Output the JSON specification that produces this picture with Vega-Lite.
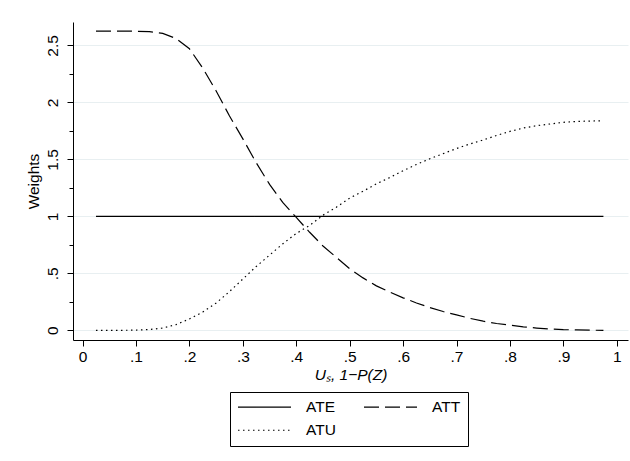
{
  "$schema": "https://vega.github.io/schema/vega-lite/v6.json",
  "width": 555,
  "height": 318,
  "autosize": {"type": "none"},
  "padding": {"left": 73, "top": 22, "right": 2, "bottom": 121},
  "background": "white",
  "config": {"view": {"stroke": null}, "font": "Liberation Sans"},
  "data": {"values": [
    {"u": 0.025, "ATE": 1, "ATT": 2.625, "ATU": 0},
    {"u": 0.05, "ATE": 1, "ATT": 2.625, "ATU": 0},
    {"u": 0.075, "ATE": 1, "ATT": 2.625, "ATU": 0},
    {"u": 0.1, "ATE": 1, "ATT": 2.624, "ATU": 0.002},
    {"u": 0.125, "ATE": 1, "ATT": 2.62, "ATU": 0.007},
    {"u": 0.15, "ATE": 1, "ATT": 2.605, "ATU": 0.02},
    {"u": 0.175, "ATE": 1, "ATT": 2.56, "ATU": 0.05},
    {"u": 0.2, "ATE": 1, "ATT": 2.47, "ATU": 0.1},
    {"u": 0.225, "ATE": 1, "ATT": 2.3, "ATU": 0.16},
    {"u": 0.25, "ATE": 1, "ATT": 2.1, "ATU": 0.24},
    {"u": 0.275, "ATE": 1, "ATT": 1.88, "ATU": 0.34},
    {"u": 0.3, "ATE": 1, "ATT": 1.68, "ATU": 0.45},
    {"u": 0.325, "ATE": 1, "ATT": 1.47, "ATU": 0.56},
    {"u": 0.35, "ATE": 1, "ATT": 1.28, "ATU": 0.66},
    {"u": 0.375, "ATE": 1, "ATT": 1.12, "ATU": 0.76},
    {"u": 0.4, "ATE": 1, "ATT": 0.99, "ATU": 0.85},
    {"u": 0.425, "ATE": 1, "ATT": 0.86, "ATU": 0.92},
    {"u": 0.45, "ATE": 1, "ATT": 0.74, "ATU": 1.01},
    {"u": 0.475, "ATE": 1, "ATT": 0.64, "ATU": 1.08},
    {"u": 0.5, "ATE": 1, "ATT": 0.54, "ATU": 1.16},
    {"u": 0.525, "ATE": 1, "ATT": 0.46, "ATU": 1.22},
    {"u": 0.55, "ATE": 1, "ATT": 0.39, "ATU": 1.285},
    {"u": 0.575, "ATE": 1, "ATT": 0.335, "ATU": 1.34},
    {"u": 0.6, "ATE": 1, "ATT": 0.285, "ATU": 1.4},
    {"u": 0.625, "ATE": 1, "ATT": 0.24, "ATU": 1.455},
    {"u": 0.65, "ATE": 1, "ATT": 0.2, "ATU": 1.505},
    {"u": 0.675, "ATE": 1, "ATT": 0.165, "ATU": 1.55},
    {"u": 0.7, "ATE": 1, "ATT": 0.135, "ATU": 1.595},
    {"u": 0.725, "ATE": 1, "ATT": 0.105, "ATU": 1.635},
    {"u": 0.75, "ATE": 1, "ATT": 0.08, "ATU": 1.67},
    {"u": 0.775, "ATE": 1, "ATT": 0.06, "ATU": 1.71},
    {"u": 0.8, "ATE": 1, "ATT": 0.045, "ATU": 1.745},
    {"u": 0.825, "ATE": 1, "ATT": 0.03, "ATU": 1.775},
    {"u": 0.85, "ATE": 1, "ATT": 0.02, "ATU": 1.795},
    {"u": 0.875, "ATE": 1, "ATT": 0.012, "ATU": 1.81},
    {"u": 0.9, "ATE": 1, "ATT": 0.006, "ATU": 1.825},
    {"u": 0.925, "ATE": 1, "ATT": 0.003, "ATU": 1.832},
    {"u": 0.95, "ATE": 1, "ATT": 0.001, "ATU": 1.836},
    {"u": 0.975, "ATE": 1, "ATT": 0, "ATU": 1.838}
  ]},
  "transform": [{"fold": ["ATE", "ATT", "ATU"], "as": ["series", "w"]}],
  "mark": {"type": "line", "color": "black", "strokeWidth": 1.2},
  "encoding": {
    "x": {
      "field": "u", "type": "quantitative",
      "scale": {"domain": [-0.018, 1.021], "nice": false, "zero": false},
      "axis": {
        "values": [0, 0.1, 0.2, 0.3, 0.4, 0.5, 0.6, 0.7, 0.8, 0.9, 1],
        "labelExpr": "datum.value == 0 ? '0' : datum.value == 1 ? '1' : '.' + format(datum.value * 10, '.0f')",
        "title": "Uₛ, 1−P(Z)",
        "grid": false,
        "domainColor": "black", "domainWidth": 1,
        "tickColor": "black", "tickSize": 6, "tickWidth": 1,
        "labelFontSize": 15.5, "labelColor": "black", "labelPadding": 3, "labelFlush": false,
        "titleFontSize": 15.5, "titleFontWeight": "normal", "titleFontStyle": "italic", "titleColor": "black", "titlePadding": 3
      }
    },
    "y": {
      "field": "w", "type": "quantitative",
      "scale": {"domain": [-0.085, 2.705], "nice": false, "zero": false},
      "axis": {
        "values": [0, 0.25, 0.5, 0.75, 1, 1.25, 1.5, 1.75, 2, 2.25, 2.5],
        "labelExpr": "datum.value % 0.5 != 0 ? '' : datum.value == 0.5 ? '.5' : format(datum.value, '~g')",
        "title": "Weights",
        "grid": true,
        "gridColor": "#e8eff1",
        "gridWidth": 1,
        "gridOpacity": {"condition": {"test": "datum.value % 0.5 != 0", "value": 0}, "value": 1},
        "tickSize": {"condition": {"test": "datum.value % 0.5 != 0", "value": 4}, "value": 6},
        "domainColor": "black", "domainWidth": 1,
        "tickColor": "black", "tickWidth": 1,
        "labelAngle": -90, "labelAlign": "center", "labelBaseline": "alphabetic",
        "labelFontSize": 15.5, "labelColor": "black", "labelPadding": 9.5, "labelFlush": false,
        "titleFontSize": 15.5, "titleFontWeight": "normal", "titleColor": "black", "titlePadding": 4
      }
    },
    "strokeDash": {
      "field": "series", "type": "nominal",
      "scale": {"domain": ["ATE", "ATT", "ATU"], "range": [[1, 0], [15, 6], [1.5, 3.5]]},
      "legend": {
        "title": null,
        "orient": "none", "legendX": 157, "legendY": 370,
        "direction": "horizontal", "columns": 2,
        "strokeColor": "black", "fillColor": "white", "padding": 7,
        "symbolType": "stroke", "symbolSize": 2809,
        "symbolStrokeColor": "black", "symbolStrokeWidth": 1.2,
        "clipHeight": 15.5,
        "labelFontSize": 15.5, "labelColor": "black", "labelOffset": 14,
        "columnPadding": 27, "rowPadding": 6.5
      }
    }
  }
}
